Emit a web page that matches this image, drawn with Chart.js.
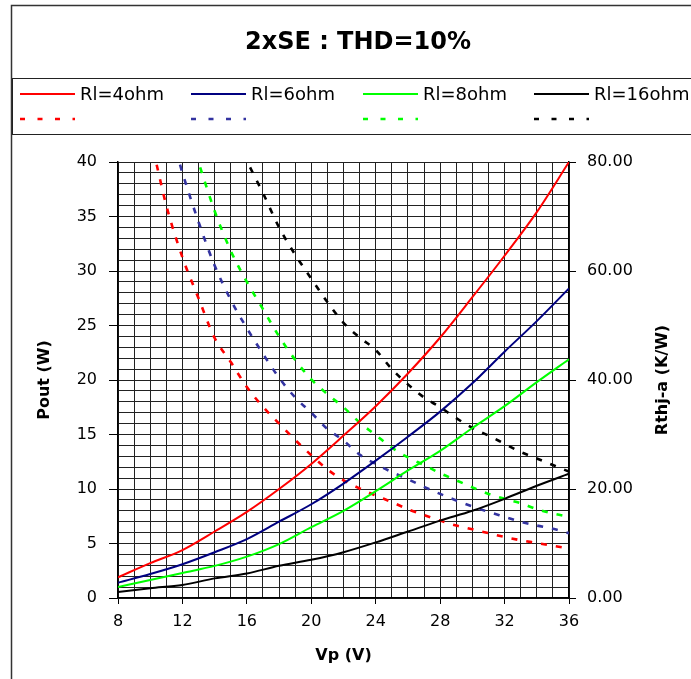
<!DOCTYPE html>
<html>
<head>
<meta charset="utf-8">
<script src="https://cdn.jsdelivr.net/npm/chart.js@4.4.1/dist/chart.umd.min.js"></script>
<style>
  html, body { margin: 0; padding: 0; background: #fff; }
  canvas { display: block; }
</style>
</head>
<body>
<canvas id="chart" width="691" height="679"></canvas>
<script>
// Pout (W) vs Vp (V), solid lines, left axis
const vp = [8, 10, 12, 14, 16, 18, 20, 22, 24, 26, 28, 30, 32, 34, 36];
const pout4 = [1.9, 3.2, 4.4, 6.1, 7.9, 10.0, 12.3, 14.9, 17.6, 20.6, 23.9, 27.6, 31.4, 35.4, 40.0];
const pout6 = [1.4, 2.2, 3.1, 4.2, 5.4, 7.0, 8.6, 10.5, 12.6, 14.8, 17.1, 19.7, 22.6, 25.4, 28.4];
const pout8 = [1.0, 1.65, 2.3, 2.95, 3.8, 4.95, 6.5, 8.0, 9.8, 11.7, 13.5, 15.6, 17.6, 19.8, 21.9];
const pout16 = [0.55, 0.9, 1.2, 1.8, 2.25, 2.95, 3.5, 4.2, 5.1, 6.1, 7.1, 8.0, 9.1, 10.3, 11.4];

// Rthj-a (K/W) vs Vp (V), dashed lines, right axis
const rthVp4 = [10.4, 11, 12, 13, 14, 15, 16, 17, 18, 19, 20, 21, 22, 23, 24, 25, 26, 27, 28, 29, 30, 31, 32, 33, 34, 35, 36];
const rth4 = [79.5, 72, 62.5, 55, 47.7, 43.3, 38.7, 35.1, 32, 29, 26.2, 23.6, 21.6, 20.1, 18.8, 17.6, 16.3, 15.2, 14.2, 13.3, 12.6, 11.9, 11.2, 10.6, 10.1, 9.6, 9.1];
const rthVp6 = [11.85, 12, 13, 14, 15, 16, 17, 18, 19, 20, 21, 22, 23, 24, 25, 26, 27, 28, 29, 30, 31, 32, 33, 34, 35, 36];
const rth6 = [79.5, 78, 69, 61, 54.7, 49.5, 44.8, 40.4, 36.8, 34, 31, 28.9, 26.3, 24.6, 23.1, 21.8, 20.4, 19.1, 17.9, 16.8, 15.8, 14.9, 14.0, 13.3, 12.7, 11.9];
const rthVp8 = [13.1, 14, 15, 16, 17, 18, 19, 20, 21, 22, 23, 24, 25, 26, 27, 28, 29, 30, 31, 32, 33, 34, 35, 36];
const rth8 = [79, 71, 63.7, 58, 53, 48, 43.7, 40.1, 37.4, 35, 32.2, 29.9, 27.6, 25.8, 24.4, 22.9, 21.6, 20.3, 19.1, 18.2, 17.4, 16.3, 15.5, 14.9];
const rthVp16 = [16.2, 17, 18, 19, 20, 21, 22, 23, 24, 25, 26, 27, 28, 29, 30, 31, 32, 33, 34, 35, 36];
const rth16 = [79, 74.3, 68, 63, 58.6, 54.3, 50.5, 47.8, 45.5, 42, 39.2, 36.8, 35, 33, 31.2, 29.8, 28.3, 26.8, 25.6, 24.4, 23.2];

const labels = ['Rl=4ohm', 'Rl=6ohm', 'Rl=8ohm', 'Rl=16ohm'];
const chartTitle = '2xSE : THD=10%';
const leftTitle = 'Pout (W)';
const rightTitle = 'Rthj-a (K/W)';
const bottomTitle = 'Vp (V)';

const toPoints = (xs, ys) => xs.map((x, i) => ({ x: x, y: ys[i] }));

function solid(label, xs, ys, color) {
  return {
    label: label, data: toPoints(xs, ys), yAxisID: 'y',
    borderColor: color, backgroundColor: color, borderWidth: 2,
    showLine: true, pointRadius: 0, cubicInterpolationMode: 'monotone'
  };
}
function dashed(xs, ys, color) {
  return {
    label: '', data: toPoints(xs, ys), yAxisID: 'y2',
    borderColor: color, backgroundColor: color, borderWidth: 2.6, borderDash: [6, 9],
    showLine: true, pointRadius: 0, cubicInterpolationMode: 'monotone'
  };
}

// title, frame, legend box and right axis title
const decorPlugin = {
  id: 'decor',
  afterDraw(chart) {
    const ctx = chart.ctx;
    ctx.save();
    ctx.strokeStyle = '#333';
    ctx.lineWidth = 1.5;
    ctx.beginPath();
    ctx.moveTo(11.5, 700);
    ctx.lineTo(11.5, 5.5);
    ctx.lineTo(700, 5.5);
    ctx.stroke();

    ctx.fillStyle = '#000';
    ctx.font = 'bold 24px "DejaVu Sans"';
    ctx.textAlign = 'center';
    ctx.textBaseline = 'middle';
    ctx.fillText(chartTitle, 358, 43);

    ctx.lineWidth = 1;
    ctx.strokeStyle = '#222';
    ctx.strokeRect(12.5, 78.5, 700, 56);

    const cols = [20, 191, 363, 534];
    ctx.font = '18px "DejaVu Sans"';
    ctx.textAlign = 'left';
    chart.data.datasets.forEach((ds, i) => {
      const x = cols[i % 4];
      const y = i < 4 ? 94 : 119;
      ctx.strokeStyle = ds.borderColor;
      ctx.lineWidth = ds.borderDash ? 2.6 : 2;
      ctx.setLineDash(ds.borderDash ? [5, 12.5] : []);
      ctx.beginPath();
      ctx.moveTo(x, y);
      ctx.lineTo(x + 55, y);
      ctx.stroke();
      if (ds.label) ctx.fillText(ds.label, x + 60, y + 1);
    });
    ctx.setLineDash([]);

    ctx.font = 'bold 16px "DejaVu Sans"';
    ctx.textAlign = 'center';
    ctx.translate(663, 380);
    ctx.rotate(-Math.PI / 2);
    ctx.fillText(rightTitle, 0, 0);
    ctx.restore();
  }
};

Chart.defaults.font.family = '"DejaVu Sans", sans-serif';
Chart.defaults.color = '#000';

const majorTick = (step) => (c) => (c.tick && Math.abs(c.tick.value % step) < 1e-6) ? '#000' : 'rgba(0,0,0,0)';

new Chart(document.getElementById('chart'), {
  type: 'scatter',
  data: {
    datasets: [
      solid(labels[0], vp, pout4, '#ff0000'),
      solid(labels[1], vp, pout6, '#000080'),
      solid(labels[2], vp, pout8, '#00ff00'),
      solid(labels[3], vp, pout16, '#000000'),
      dashed(rthVp4, rth4, '#ff0000'),
      dashed(rthVp6, rth6, '#3333a0'),
      dashed(rthVp8, rth8, '#00ff00'),
      dashed(rthVp16, rth16, '#000000')
    ]
  },
  options: {
    responsive: false,
    animation: false,
    layout: { padding: { top: 162, left: 0, right: 0, bottom: 0 } },
    plugins: { legend: { display: false }, tooltip: { enabled: false } },
    scales: {
      x: {
        type: 'linear', min: 8, max: 36,
        afterFit: (s) => { s.height = 81; },
        ticks: { stepSize: 1, autoSkip: false, maxRotation: 0, padding: 8, font: { size: 16 },
          callback: (v) => v % 4 === 0 ? v : '' },
        grid: { color: '#222', lineWidth: 1, tickLength: 6, tickColor: majorTick(4) },
        border: { color: '#000', width: 1.5 },
        title: { display: true, text: bottomTitle, font: { size: 16, weight: 'bold' }, padding: { top: 0, bottom: 14 } }
      },
      y: {
        type: 'linear', position: 'left', min: 0, max: 40,
        afterFit: (s) => { s.width = 118; },
        ticks: { stepSize: 1, autoSkip: false, padding: 12, font: { size: 16 },
          callback: (v) => v % 5 === 0 ? v : '' },
        grid: { color: '#222', lineWidth: 1, tickLength: 9, tickColor: majorTick(5) },
        border: { color: '#000', width: 1.5 },
        title: { display: true, text: leftTitle, font: { size: 16, weight: 'bold' }, padding: { top: 35, bottom: 0 } }
      },
      y2: {
        type: 'linear', position: 'right', min: 0, max: 80,
        afterFit: (s) => { s.width = 122; },
        ticks: { stepSize: 20, padding: 11, font: { size: 16 }, callback: (v) => v.toFixed(2) },
        grid: { drawOnChartArea: false, tickLength: 7, tickColor: '#000' },
        border: { color: '#000', width: 1.5 }
      }
    }
  },
  plugins: [decorPlugin]
});
</script>
</body>
</html>
